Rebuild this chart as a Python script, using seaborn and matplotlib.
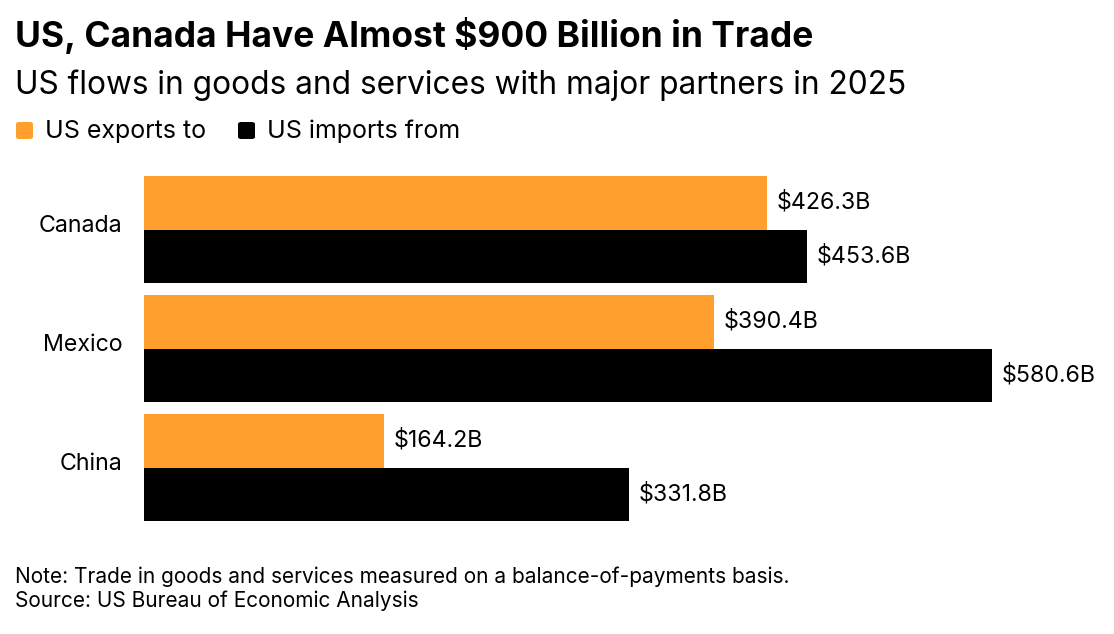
import pandas as pd
import matplotlib.pyplot as plt
import matplotlib.transforms as mtransforms
import seaborn as sns
from matplotlib.patches import FancyBboxPatch

sns.set_theme(style="white")
plt.rcParams['font.family'] = ['Inter', 'DejaVu Sans']
plt.rcParams['text.color'] = 'black'
plt.rcParams['ytick.color'] = 'black'

# data
partners = ["Canada", "Mexico", "China"]
exports = [426.3, 390.4, 164.2]
imports = [453.6, 580.6, 331.8]
series = ["US exports to", "US imports from"]
colors = ["#FFA02E", "#000000"]

df = pd.DataFrame({
    "partner": partners * 2,
    "value": exports + imports,
    "flow": [series[0]] * len(partners) + [series[1]] * len(partners),
})

W, H = 1114, 634
fig = plt.figure(figsize=(W / 100, H / 100), dpi=100)
ax = fig.add_axes([144 / W, (H - 527) / H, (1100 - 144) / W, 357 / H])

sns.barplot(data=df, y="partner", x="value", hue="flow", order=partners,
            hue_order=series, palette=colors, orient="h", width=0.9,
            saturation=1, linewidth=0, legend=False, ax=ax)

ax.set_xlim(0, (1100 - 144) / 1.4606)
ax.set_ylim(2.5, -0.5)
ax.set_xlabel("")
ax.set_ylabel("")
ax.set_xticks([])
ax.tick_params(axis="y", length=0, pad=15.5, labelsize=16.7)
# nudge category labels up a little, like the original
shift = mtransforms.ScaledTranslation(0, 6 / 100, fig.dpi_scale_trans)
for lbl in ax.get_yticklabels():
    lbl.set_transform(lbl.get_transform() + shift)
for s in ax.spines.values():
    s.set_visible(False)

for cont in ax.containers:
    ax.bar_label(cont, labels=[f"${v:.1f}B" for v in cont.datavalues],
                 padding=7, fontsize=16.7, color="black")

fig.text(15 / W, 1 - 36 / H, "US, Canada Have Almost $900 Billion in Trade",
         fontsize=25.5, fontweight="bold", va="center", ha="left")
fig.text(15 / W, 1 - 85 / H, "US flows in goods and services with major partners in 2025",
         fontsize=22.8, va="center", ha="left")

# legend
leg_x = [16, 238]
for x0, lab, c in zip(leg_x, series, colors):
    fig.patches.append(FancyBboxPatch((x0 / W, 1 - 139 / H), 17 / W, 17 / H,
                                      boxstyle="round,pad=0,rounding_size=0.003",
                                      transform=fig.transFigure, facecolor=c,
                                      edgecolor="none"))
    fig.text((x0 + 29) / W, 1 - 131 / H, lab, fontsize=18, va="center", ha="left")

fig.text(15 / W, 1 - 577 / H,
         "Note: Trade in goods and services measured on a balance-of-payments basis.",
         fontsize=15, va="center", ha="left")
fig.text(15 / W, 1 - 601 / H, "Source: US Bureau of Economic Analysis",
         fontsize=15, va="center", ha="left")

fig.savefig("out.png", dpi=100, facecolor="white")
